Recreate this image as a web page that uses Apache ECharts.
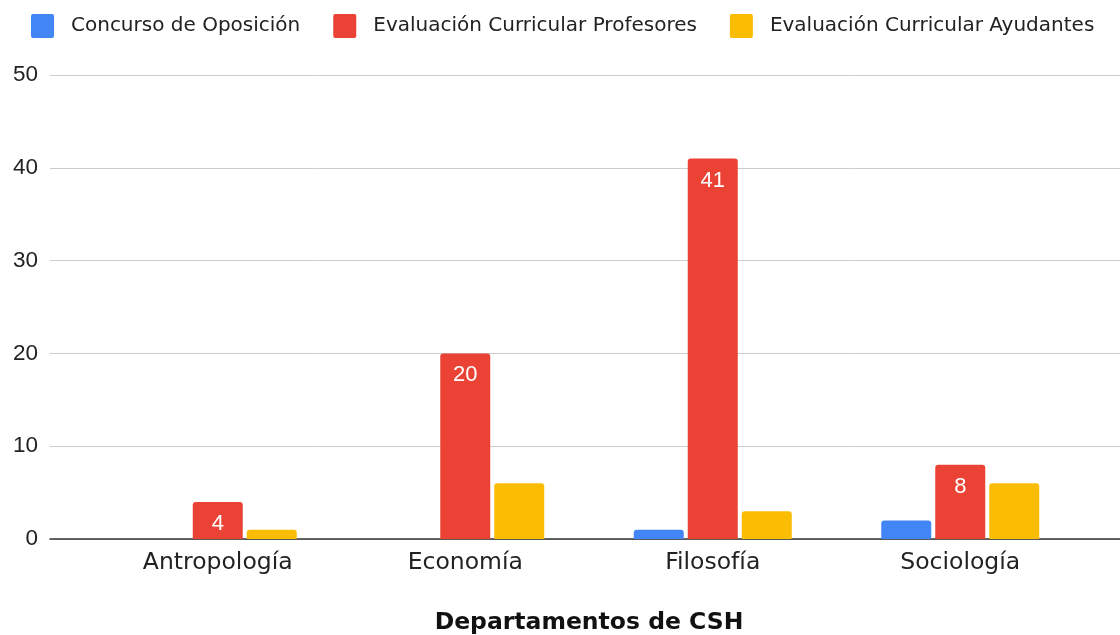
<!DOCTYPE html>
<html>
<head>
<meta charset="utf-8">
<script src="https://cdn.jsdelivr.net/npm/echarts@6/dist/echarts.min.js"></script>
<style>
  html, body { margin: 0; padding: 0; background: #fff; }
  #chart { width: 1120px; height: 635px; }
</style>
</head>
<body>
<div id="chart"></div>
<script>
  let departamentos = ['Antropología', 'Economía', 'Filosofía', 'Sociología'];
  let concurso = [0, 0, 1, 2];
  let profesores = [4, 20, 41, 8];
  let ayudantes = [1, 6, 3, 6];
  let yTicks = [0, 10, 20, 30, 40, 50];

  let chart = echarts.init(document.getElementById('chart'));

  // small rounded square for the legend keys
  let keyIcon = 'path://M2,0 H21 Q23,0 23,2 V22 Q23,24 21,24 H2 Q0,24 0,22 V2 Q0,0 2,0 Z';
  let arial = "'Liberation Sans', Arial, sans-serif";
  let verdana = "'DejaVu Sans', Verdana, sans-serif";

  let barBase = {
    type: 'bar',
    xAxisIndex: 1,
    yAxisIndex: 1,
    barWidth: 50,
    barGap: '8%',
    barCategoryGap: '37%',
    itemStyle: { borderRadius: [3, 3, 0, 0] }
  };

  let option = {
    animation: false,
    legend: {
      top: 9,
      left: 26,
      itemWidth: 23,
      itemHeight: 24,
      itemGap: 33,
      icon: keyIcon,
      textStyle: { color: '#222', fontSize: 20, fontFamily: verdana, padding: [0, 0, 0, 12] },
      data: ['Concurso de Oposición', 'Evaluación Curricular Profesores', 'Evaluación Curricular Ayudantes']
    },
    grid: [
      { left: 50, right: 0, top: 75, bottom: 96, outerBoundsMode: 'none' },
      { left: 94, right: 36, top: 75, bottom: 96, outerBoundsMode: 'none' }
    ],
    xAxis: [{
      gridIndex: 0,
      type: 'category',
      data: departamentos,
      axisLine: { lineStyle: { color: '#333', width: 1.5 } },
      axisTick: { show: false },
      axisLabel: { show: false }
    }, {
      gridIndex: 1,
      type: 'category',
      data: departamentos,
      axisLine: { show: false },
      axisTick: { show: false },
      axisLabel: { color: '#222', fontSize: 23.5, fontFamily: verdana, margin: 12 },
      name: 'Departamentos de CSH',
      nameLocation: 'middle',
      nameGap: 72,
      nameTextStyle: { color: '#111', fontSize: 23.5, fontWeight: 'bold', fontFamily: verdana }
    }],
    yAxis: [{
      gridIndex: 0,
      type: 'value',
      min: yTicks[0],
      max: yTicks[yTicks.length - 1],
      interval: 10,
      axisLine: { show: false },
      axisTick: { show: false },
      axisLabel: { color: '#222', fontSize: 22.5, fontFamily: arial, margin: 12 },
      splitLine: { lineStyle: { color: '#ccc', width: 1 } }
    }, {
      gridIndex: 1,
      type: 'value',
      min: yTicks[0],
      max: yTicks[yTicks.length - 1],
      interval: 10,
      show: false,
      splitLine: { show: false }
    }],
    series: [
      Object.assign({}, barBase, {
        name: 'Concurso de Oposición',
        color: '#4285F4',
        data: concurso
      }),
      Object.assign({}, barBase, {
        name: 'Evaluación Curricular Profesores',
        color: '#EA4335',
        data: profesores,
        label: {
          show: true,
          position: 'insideTop',
          distance: 11,
          color: '#fff',
          fontSize: 22,
          fontFamily: arial
        }
      }),
      Object.assign({}, barBase, {
        name: 'Evaluación Curricular Ayudantes',
        color: '#FBBC04',
        data: ayudantes
      })
    ]
  };

  chart.setOption(option);
</script>
</body>
</html>
